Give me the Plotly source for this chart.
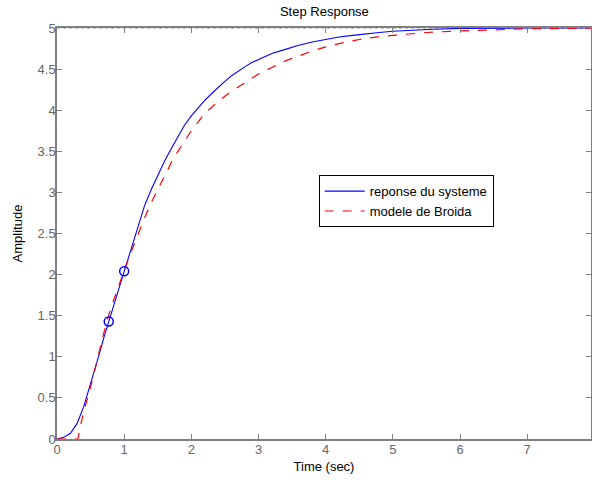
import plotly.graph_objects as go

# System response (blue)
t_sys = [0, 0.1, 0.2, 0.3, 0.4, 0.5, 0.6, 0.7, 0.77, 0.8, 0.9, 1.0, 1.1, 1.2, 1.25,
         1.3, 1.4, 1.5, 1.6, 1.7, 1.8, 1.9, 2.0, 2.1, 2.2, 2.3, 2.4, 2.5, 2.6, 2.7,
         2.8, 2.9, 3.0, 3.2, 3.4, 3.6, 3.8, 4.0, 4.2, 4.4, 4.6, 4.8, 5.0, 5.3, 5.6,
         6.0, 6.5, 7.0, 7.95]
y_sys = [0, 0.02, 0.07, 0.19, 0.40, 0.66, 0.95, 1.24, 1.43, 1.52, 1.79, 2.04, 2.30, 2.56, 2.72,
         2.83, 3.03, 3.21, 3.38, 3.53, 3.68, 3.82, 3.93, 4.03, 4.12, 4.20, 4.28, 4.35, 4.42, 4.48,
         4.53, 4.58, 4.62, 4.69, 4.74, 4.79, 4.83, 4.86, 4.89, 4.91, 4.93, 4.945, 4.96, 4.975, 4.985,
         4.995, 5.0, 5.0, 5.0]

# Broida model (red dashed)
t_mod = [0, 0.31, 0.35, 0.4, 0.5, 0.6, 0.7, 0.8, 0.9, 1.0, 1.1, 1.2, 1.3, 1.4, 1.5,
         1.6, 1.7, 1.8, 1.9, 2.0, 2.2, 2.4, 2.6, 2.8, 3.0, 3.2, 3.4, 3.6, 3.8, 4.0,
         4.25, 4.5, 4.75, 5.0, 5.25, 5.5, 6.0, 6.5, 7.0, 7.5, 7.95]
y_mod = [0, 0, 0.16, 0.34, 0.63, 0.98, 1.30, 1.59, 1.83, 2.05, 2.27, 2.48, 2.68, 2.87, 3.03,
         3.19, 3.36, 3.50, 3.63, 3.75, 3.96, 4.11, 4.23, 4.34, 4.44, 4.52, 4.60, 4.66, 4.72, 4.77,
         4.82, 4.86, 4.89, 4.91, 4.93, 4.945, 4.965, 4.98, 4.99, 4.995, 5.0]

# Broida points (circles)
t_pts = [0.77, 1.0]
y_pts = [1.43, 2.04]

final_value = 5
x_ticks = [0, 1, 2, 3, 4, 5, 6, 7]
y_ticks = [0, 0.5, 1, 1.5, 2, 2.5, 3, 3.5, 4, 4.5, 5]

FONT = "Liberation Sans, Arial"

fig = go.Figure()
fig.add_trace(go.Scatter(x=[0, 7.95], y=[final_value, final_value], mode="lines",
                         line=dict(color="#888888", width=1, dash="dot"),
                         showlegend=False, hoverinfo="skip"))
fig.add_trace(go.Scatter(x=t_sys, y=y_sys, mode="lines", name="reponse du systeme",
                         line=dict(color="#0000ff", width=1.1)))
fig.add_trace(go.Scatter(x=t_mod, y=y_mod, mode="lines", name="modele de Broida",
                         line=dict(color="#ff0000", width=1.2, dash="dash")))
fig.add_trace(go.Scatter(x=t_pts, y=y_pts, mode="markers", showlegend=False,
                         marker=dict(symbol="circle-open", size=9, color="#0000ff",
                                     line=dict(width=1.5, color="#0000ff"))))

axis_common = dict(showgrid=False, zeroline=False, showline=True, mirror="ticks",
                   linecolor="#808080", linewidth=1.5, ticks="inside", ticklen=5,
                   tickcolor="#808080", tickwidth=1,
                   tickfont=dict(family=FONT, size=13, color="#666666"))

fig.update_layout(
    width=592, height=483,
    margin=dict(l=57, r=1, t=28, b=44, autoexpand=False),
    paper_bgcolor="white", plot_bgcolor="white",
    title=dict(text="Step Response", x=0.548, xanchor="center",
               yref="container", y=1.0, yanchor="top", pad=dict(t=7, b=0),
               font=dict(family=FONT, size=13, color="black")),
    xaxis=dict(range=[0, 7.95], tickvals=x_ticks, ticktext=[str(v) for v in x_ticks],
               ticklabelstandoff=-2,
               title=dict(text="Time (sec)", standoff=6,
                          font=dict(family=FONT, size=13, color="black")),
               **axis_common),
    yaxis=dict(range=[0, 5], tickvals=y_ticks, ticktext=[("%g" % v) for v in y_ticks],
               ticklabelstandoff=-3,
               title=dict(text="Amplitude", standoff=12,
                          font=dict(family=FONT, size=13, color="black")),
               **axis_common),
    legend=dict(x=0.49, y=0.642, xanchor="left", yanchor="top",
                bordercolor="black", borderwidth=1, bgcolor="white",
                font=dict(family=FONT, size=13, color="black"),
                tracegroupgap=0, itemwidth=40),
    showlegend=True,
)

fig.write_html("out.html", config={"displayModeBar": False},
               post_script="document.body.style.margin='0';document.body.style.overflow='hidden';")
